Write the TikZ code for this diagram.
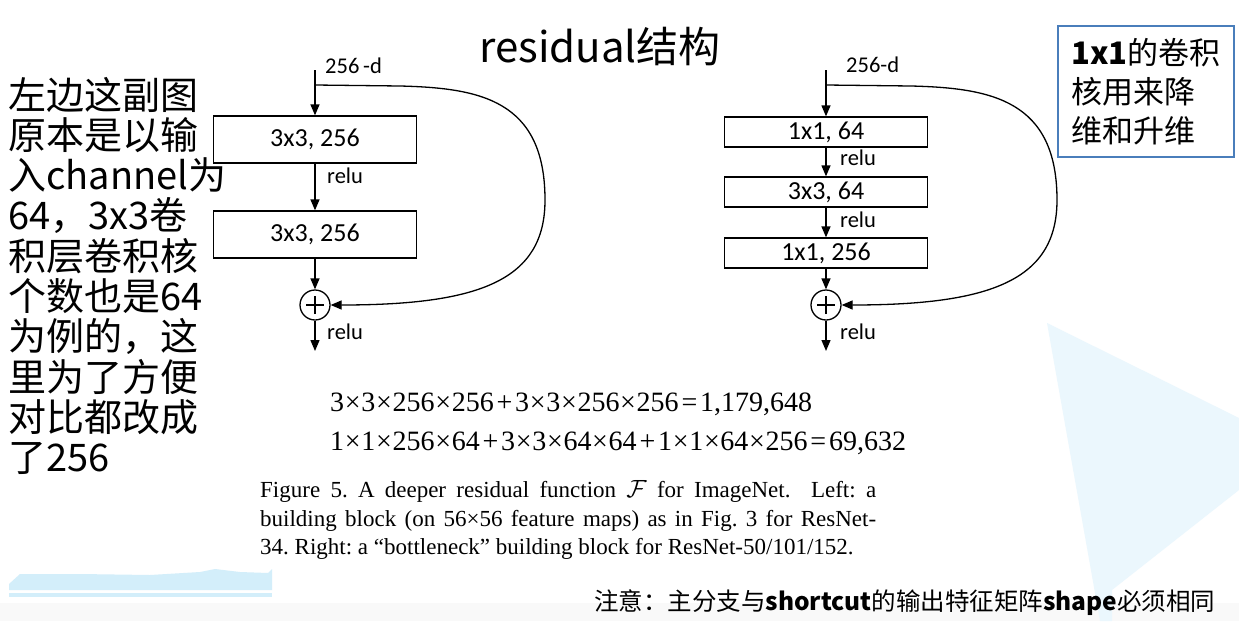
\documentclass[tikz,border=0pt]{standalone}
\usepackage{fontspec}
\setmainfont{Liberation Serif}
\newfontfamily\cjkfont{Noto Sans CJK SC}
\newfontfamily\calfont{Carlito}
\newfontfamily\capfont{Liberation Serif}
\usetikzlibrary{arrows.meta}
\definecolor{boxblue}{HTML}{4A7EBB}
\definecolor{bgblue}{HTML}{EBF7FD}
\definecolor{bandblue}{HTML}{D3EEFA}
\newcommand{\tm}{\hspace{0.025em}×\hspace{0.025em}}
\newcommand{\pl}{\hspace{0.1em}+\hspace{0.1em}}
\newcommand{\eq}{\hspace{0.1em}=\hspace{0.1em}}
\begin{document}
\frenchspacing
\begin{tikzpicture}[x=1pt,y=-1pt,
  arr/.style={line width=1.3pt,-{Triangle[length=11pt,width=9pt]}},
  blk/.style={draw, line width=1.3pt, minimum width=203pt, inner sep=0pt,
    font=\calfont\fontsize{26}{30}\selectfont},
  bigblk/.style={blk, minimum height=47pt},
  smallblk/.style={blk, minimum height=30pt},
  lbl/.style={inner sep=0pt, font=\calfont\fontsize{22.5}{26}\selectfont},
  sumnode/.style={circle, draw, line width=1.3pt, minimum size=30pt, inner sep=0pt,
    path picture={\draw[line width=1.2pt]
      ([xshift=-9pt]path picture bounding box.center) -- ([xshift=9pt]path picture bounding box.center)
      ([yshift=-9pt]path picture bounding box.center) -- ([yshift=9pt]path picture bounding box.center);}},
  sidetext/.style={anchor=base west, inner sep=0pt, font=\cjkfont\fontsize{38}{40}\selectfont},
  captext/.style={anchor=base west, inner sep=0pt, font=\capfont\fontsize{23}{28}\selectfont},
  formula/.style={anchor=base west, inner sep=0pt, font=\fontsize{28}{30}\selectfont},
]
\useasboundingbox (0,0) rectangle (1239,621);
\fill[white] (0,0) rectangle (1239,621);
% background decorations
\fill[gray!5] (0,603) rectangle (1239,621);
\fill[bgblue] (1047,323) -- (1239,418) -- (1239,490) -- (1112,590) -- (1112,621) -- (1100,621) -- cycle;
\fill[bandblue] (9,590) -- (9,584) -- (20,574) -- (80,574) -- (150,575) -- (200,572) -- (215,569) -- (240,572) -- (268,573) -- (272,569) -- (272,590) -- cycle;
\fill[bandblue] (9,593) rectangle (272,597);

% title
\node[inner sep=0pt, font=\cjkfont\fontsize{42}{46}\selectfont] (title) at (600,47) {residual结构};

% left explanatory text
\foreach \t [count=\i] in {左边这副图,原本是以输,入channel为,64，3x3卷,积层卷积核,个数也是64,为例的，这,里为了方便,对比都改成,了256}
  \node[sidetext] (side\i) at (8,{109+40.3*(\i-1)}) {\t};

% left block
\node[lbl, anchor=west] (lin) at (325,66) {256\,-d};
\coordinate (lstart) at (315,70);
\coordinate (lsplit) at (315,85);
\node[bigblk] (lb1) at (315,139.5) {3x3, 256};
\node[bigblk] (lb2) at (315,234.5) {3x3, 256};
\node[sumnode] (lplus) at (315,305) {};
\coordinate (lout) at (315,351);
\draw[arr] (lstart) -- (lb1);
\draw[arr] (lb1) -- (lb2);
\draw[arr] (lb2) -- (lplus);
\draw[arr] (lplus) -- (lout);
\node[lbl, anchor=west] (lrelu1) at (327,176) {relu};
\node[lbl, anchor=west] (lrelu2) at (327,332) {relu};
\draw[arr] (lsplit) -- (400,86) .. controls (480,88) and (545,100) .. (545,200)
   .. controls (545,280) and (480,305) .. (lplus.east);

% right block
\node[lbl, anchor=west] (rin) at (846,65) {256-d};
\coordinate (rstart) at (826,70);
\coordinate (rsplit) at (826,85);
\node[smallblk] (rb1) at (826,132) {1x1, 64};
\node[smallblk] (rb2) at (826,192) {3x3, 64};
\node[smallblk] (rb3) at (826,253) {1x1, 256};
\node[sumnode] (rplus) at (826,305) {};
\coordinate (rout) at (826,351);
\draw[arr] (rstart) -- (rb1);
\draw[arr] (rb1) -- (rb2);
\draw[arr] (rb2) -- (rb3);
\draw[arr] (rb3) -- (rplus);
\draw[arr] (rplus) -- (rout);
\node[lbl, anchor=west] (rrelu1) at (840,158) {relu};
\node[lbl, anchor=west] (rrelu2) at (840,220) {relu};
\node[lbl, anchor=west] (rrelu3) at (840,332) {relu};
\draw[arr] (rsplit) -- (911,86) .. controls (991,88) and (1057,100) .. (1057,200)
   .. controls (1057,280) and (991,305) .. (rplus.east);

% note box
\node[draw=boxblue, line width=2pt, minimum width=176pt, minimum height=131pt, align=left,
  inner sep=0pt, font=\cjkfont\fontsize{31}{39}\selectfont] (notebox) at (1146,91.5)
  {\textbf{1x1}的卷积\\核用来降\\维和升维};

% formulas
\node[formula] (f1) at (330,411)
  {3\tm3\tm256\tm256\pl3\tm3\tm256\tm256\eq1,179,648};
\node[formula] (f2) at (330,450)
  {1\tm1\tm256\tm64\pl3\tm3\tm64\tm64\pl1\tm1\tm64\tm256\eq69,632};

% caption
\node[captext] (c1) at (260,497)
  {\makebox[616pt][s]{Figure 5. A deeper residual function $\mathcal{F}$ for ImageNet.\ \ Left: a}};
\node[captext] (c2) at (260,526)
  {\makebox[616pt][s]{building block (on 56×56 feature maps) as in Fig. 3 for ResNet-}};
\node[captext] (c3) at (260,554)
  {34. Right: a “bottleneck” building block for ResNet-50/101/152.};

% bottom note
\node[anchor=base west, inner sep=0pt, font=\cjkfont\fontsize{24.5}{28}\selectfont] (warn) at (594,610)
  {注意：主分支与\textbf{shortcut}的输出特征矩阵\textbf{shape}必须相同};
\end{tikzpicture}
\end{document}
